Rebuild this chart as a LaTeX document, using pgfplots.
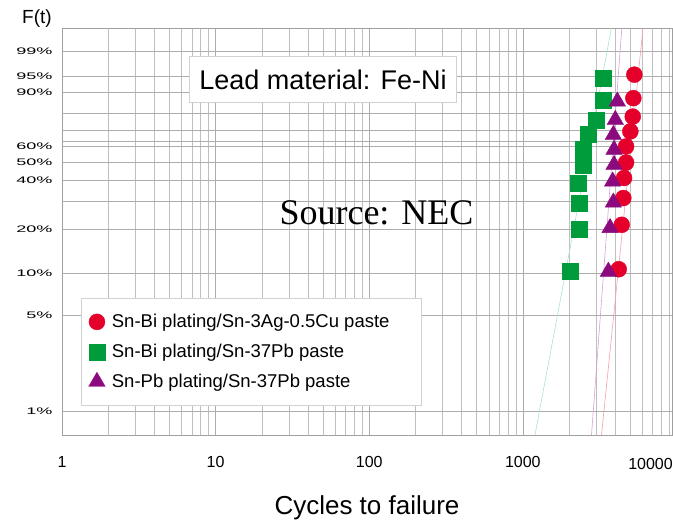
\documentclass[border=0pt]{standalone}
\usepackage{fontspec}
\setmainfont{Liberation Sans}
\newfontfamily\serifsrc{Liberation Serif}
\usepackage{graphicx}
\usepackage{pgfplots}
\usepackage{pgfplotstable}
\pgfplotsset{compat=1.18}

\definecolor{mred}{HTML}{E4002B}
\definecolor{mgreen}{HTML}{009B3A}
\definecolor{mpurple}{HTML}{8B0A7E}
\definecolor{lgreen}{HTML}{A8E6C8}
\definecolor{lpurple}{HTML}{D8A0D8}
\definecolor{lred}{HTML}{F5A0A8}

% N = cycles to failure, F = cumulative failure (%)
\pgfplotstableread{
N F
4210 10.7
4405 21.4
4510 31.6
4560 41.4
4700 50.1
4700 59.9
5010 69.3
5195 78.1
5240 87.5
5320 95.5
}\redtab
\pgfplotstableread{
N F
2030 10.3
2333 19.9
2325 29.5
2298 38.7
2476 48.8
2476 58.3
2670 67.8
2983 76.3
3343 86.5
3343 94.6
}\greentab
\pgfplotstableread{
N F
3605 10.3
3697 20.4
3883 29.7
3845 39.6
3925 48.8
3925 57.9
3883 67.2
4000 76.3
4123 86.0
}\purpletab

\begin{document}
\begin{tikzpicture}
\begin{axis}[
  at={(0pt,0pt)}, anchor=south west,
  scale only axis, width=610pt, height=407pt,
  xmode=log, log basis x=10,
  xmin=1, xmax=9355, ymin=-5, ymax=1.926,
  axis line style={draw=gray!75, line width=0.6pt},
  major tick length=0pt, minor tick length=0pt,
  xtick={1,10,100,1000}, xticklabels={1,10,100,1000},
  minor xtick={2,3,4,5,6,7,8,9,20,30,40,50,60,70,80,90,200,300,400,500,600,700,800,900,2000,3000,4000,5000,6000,7000,8000,9000},
  xticklabel style={font=\fontsize{16}{18}\selectfont, yshift=-18pt},
  ytick={-4.60015,-2.97020,-2.25037,-1.49994,-0.67173,-0.36651,-0.08742,0.83403,1.09719,1.52718},
  yticklabels={\scalebox{1.9}[1]{1\%},\scalebox{1.9}[1]{5\%},\scalebox{1.9}[1]{10\%},\scalebox{1.9}[1]{20\%},\scalebox{1.9}[1]{40\%},\scalebox{1.9}[1]{50\%},\scalebox{1.9}[1]{60\%},\scalebox{1.9}[1]{90\%},\scalebox{1.9}[1]{95\%},\scalebox{1.9}[1]{99\%}},
  yticklabel style={font=\fontsize{9.5}{10}\selectfont, xshift=-6pt},
  extra y ticks={-1.03093,0,0.18563,0.47588},
  extra y tick labels={},
  extra y tick style={grid style={gray!30, line width=0.5pt}},
  xmajorgrids, xminorgrids, ymajorgrids,
  major grid style={gray!65, line width=0.6pt},
  minor grid style={gray!50, line width=0.5pt},
  legend style={at={(axis description cs:0.0307,0.3373)}, anchor=north west,
    draw=gray!35, fill=white, font=\fontsize{18.5}{22}\selectfont,
    inner xsep=7.8pt, inner ysep=14.5pt, row sep=11pt, nodes={inner sep=2pt},
    /tikz/every odd column/.append style={column sep=4.7pt}},
  legend cell align=left,
]
\addplot[lgreen, line width=0.6pt, forget plot] table[x=N, y expr={ln(-ln(1-\thisrow{F}/100))}] {
N F
1200 0.6715
3777 99.898
};
\addplot[lpurple, line width=0.6pt, forget plot] table[x=N, y expr={ln(-ln(1-\thisrow{F}/100))}] {
N F
2800 0.6715
4411 99.898
};
\addplot[lred, line width=0.6pt, forget plot] table[x=N, y expr={ln(-ln(1-\thisrow{F}/100))}] {
N F
3253 0.6715
6062 99.898
};
\addplot[only marks, mark=*, mark size=8pt, mark options={draw=mred, fill=mred}]
  table[x=N, y expr={ln(-ln(1-\thisrow{F}/100))}] {\redtab};
\addlegendentry{Sn-Bi plating/Sn-3Ag-0.5Cu paste\hspace*{22pt}}
\addplot[only marks, mark=square*, mark size=8pt, mark options={draw=mgreen, fill=mgreen}]
  table[x=N, y expr={ln(-ln(1-\thisrow{F}/100))}] {\greentab};
\addlegendentry{Sn-Bi plating/Sn-37Pb paste}
\addplot[only marks, mark=triangle*, mark size=9.5pt, mark options={draw=mpurple, fill=mpurple}]
  table[x=N, y expr={ln(-ln(1-\thisrow{F}/100))}] {\purpletab};
\addlegendentry{Sn-Pb plating/Sn-37Pb paste}
\end{axis}
\node[anchor=north east, font=\fontsize{16}{18}\selectfont, inner sep=0pt] at (611pt,-23.5pt) {10000};
\node[draw=gray!35, fill=white, minimum width=267pt, minimum height=45.6pt, inner sep=0pt,
  font=\fontsize{27}{30}\selectfont] at (261pt,355.5pt) {Lead material: Fe-Ni};
\node[font=\serifsrc\fontsize{36}{40}\selectfont, inner sep=0pt, anchor=base] at (314.5pt,210pt) {Source: NEC};
\node[font=\fontsize{19}{22}\selectfont, inner sep=0pt] at (-25pt,416pt) {F(t)};
\node[font=\fontsize{26}{30}\selectfont, inner sep=0pt, anchor=base] at (305pt,-80pt) {Cycles to failure};
\pgfresetboundingbox
\path[use as bounding box] (-62pt,-86pt) rectangle (611pt,435pt);
\end{tikzpicture}
\end{document}
